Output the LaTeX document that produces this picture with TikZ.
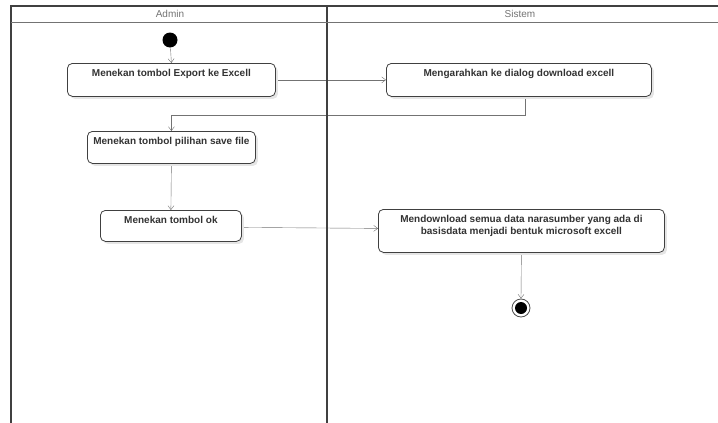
\documentclass[tikz,border=0pt]{standalone}
\usepackage{fontspec}
\setmainfont{Liberation Sans}
\usepackage{tikz}
\usetikzlibrary{shadows}
\usetikzlibrary{arrows.meta}
\pgfdeclarelayer{edgelayer}
\pgfdeclarelayer{nodelayer}
\pgfsetlayers{edgelayer,nodelayer,main}
\definecolor{lane}{rgb}{0.25,0.25,0.25}
\definecolor{edge}{rgb}{0.45,0.45,0.45}
\tikzstyle{none}=[inner sep=0pt]
\tikzstyle{activity}=[rectangle, rounded corners=5pt, draw=lane, line width=0.8pt, fill=white, anchor=north west, inner sep=3pt, text height=10pt, align=center, font=\fontsize{10}{12}\selectfont\bfseries, text=black!80, drop shadow={shadow xshift=2.5pt, shadow yshift=-2.5pt, fill=black!10, opacity=1}]
\tikzstyle{lanetitle}=[inner sep=0pt, text=black!55, font=\fontsize{10}{11}\selectfont]

\begin{document}
\begin{tikzpicture}[x=1pt, y=-1pt]
	\useasboundingbox (0, 0) rectangle (718, 423);
	% swimlanes
	\draw [lane, line width=1.6pt] (718, 6) -- (11, 6) -- (11, 423);
	\draw [lane, line width=1.6pt] (327, 6) -- (327, 423);
	\draw [edge, line width=1pt] (11, 22) -- (718, 22);
	\node [style=lanetitle] (0) at (170, 14) {Admin};
	\node [style=lanetitle] (1) at (520, 14) {Sistem};
	\begin{pgfonlayer}{nodelayer}
		\node [style=none, circle, minimum size=15pt, fill=black] (2) at (170, 40) {};
		\node [style=activity, minimum width=208pt, text depth=17pt] (3) at (67, 63) {Menekan tombol Export ke Excell};
		\node [style=activity, minimum width=265pt, text depth=17pt] (4) at (386, 63) {Mengarahkan ke dialog download excell};
		\node [style=activity, minimum width=168pt, text depth=16pt] (5) at (87, 131) {Menekan tombol pilihan save file};
		\node [style=activity, minimum width=141pt, text depth=15pt] (6) at (100, 210) {Menekan tombol ok};
		\node [style=activity, minimum width=286pt, text height=22pt, text depth=15pt] (7) at (378, 209) {Mendownload semua data narasumber yang ada di\\basisdata menjadi bentuk microsoft excell};
		\node [style=none, circle, minimum size=18pt, draw=black!70, line width=0.8pt, fill=white] (8) at (521, 308) {};
		\node [style=none, circle, minimum size=12pt, fill=black] (9) at (521, 308) {};
	\end{pgfonlayer}
	\begin{pgfonlayer}{edgelayer}
		\draw [->, edge, >={Straight Barb[length=4pt, width=6pt]}](2) to (3.north);
		\draw [->, edge, >={Straight Barb[length=4pt, width=6pt]}](3.east) to (4.west);
		\draw [->, edge, >={Straight Barb[length=4pt, width=6pt]}]([xshift=6pt]4.south) -- ++(0, 18) -| (5.north);
		\draw [->, edge, >={Straight Barb[length=4pt, width=6pt]}](5.south) to (6.north);
		\draw [->, edge, >={Straight Barb[length=4pt, width=6pt]}]([yshift=-1.5pt]6.east) to ([yshift=2.5pt]7.west);
		\draw [->, edge, >={Straight Barb[length=4pt, width=6pt]}](7.south) to (8.north);
	\end{pgfonlayer}
\end{tikzpicture}
\end{document}
